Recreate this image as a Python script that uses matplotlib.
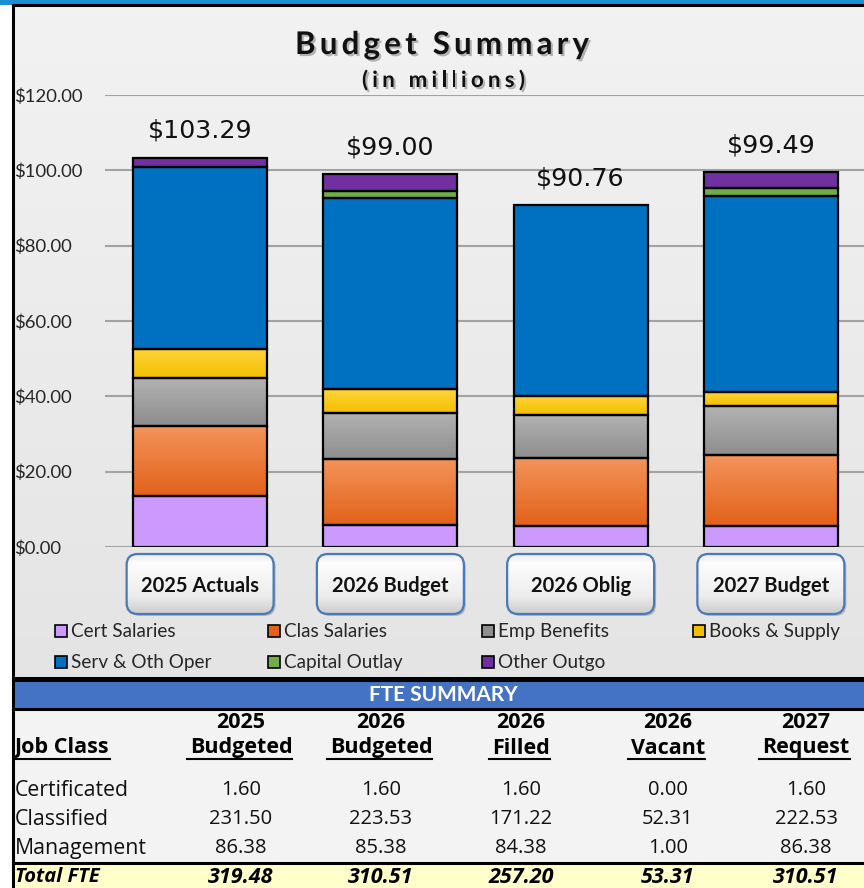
import numpy as np
import matplotlib
matplotlib.use("Agg")
import matplotlib.pyplot as plt
from matplotlib.patches import Rectangle, FancyBboxPatch
from matplotlib.lines import Line2D
from matplotlib.transforms import IdentityTransform
import matplotlib.patheffects as pe

# ---------------- data ----------------
categories = ["2025 Actuals", "2026 Budget", "2026 Oblig", "2027 Budget"]
totals = [103.29, 99.00, 90.76, 99.49]
cert_salaries = [13.6, 5.8, 5.7, 5.7]
clas_salaries = [18.5, 17.5, 17.8, 18.7]
emp_benefits = [12.7, 12.4, 11.5, 13.0]
books_supply = [7.8, 6.2, 5.2, 3.8]
serv_oth_oper = [48.19, 50.7, 50.56, 52.0]
capital_outlay = [0.0, 1.9, 0.0, 2.0]
other_outgo = [2.5, 4.5, 0.0, 4.29]
series_names = ["Cert Salaries", "Clas Salaries", "Emp Benefits", "Books & Supply",
                "Serv & Oth Oper", "Capital Outlay", "Other Outgo"]
yticks = [0, 20, 40, 60, 80, 100, 120]

fte_columns = [("2025", "Budgeted"), ("2026", "Budgeted"), ("2026", "Filled"),
               ("2026", "Vacant"), ("2027", "Request")]
fte_classes = ["Certificated", "Classified", "Management"]
fte_certificated = [1.60, 1.60, 1.60, 0.00, 1.60]
fte_classified = [231.50, 223.53, 171.22, 52.31, 222.53]
fte_management = [86.38, 85.38, 84.38, 1.00, 86.38]
fte_total = [319.48, 310.51, 257.20, 53.31, 310.51]

# ---------------- style ----------------
W, H = 864, 888
fig = plt.figure(figsize=(W / 100, H / 100), dpi=100)
fig.patch.set_facecolor("white")
CAL = ["Lato", "DejaVu Sans"]
TITLE = ["Lato", "DejaVu Sans"]
GOTH = ["Open Sans", "DejaVu Sans"]

def fx(x):
    return x / W

def fy(y):
    return 1 - y / H

def px_rect(x0, y0, x1, y1, **kw):
    r = Rectangle((x0, H - y1), x1 - x0, y1 - y0, transform=IdentityTransform(), **kw)
    fig.add_artist(r)
    return r

def px_line(x0, y0, x1, y1, **kw):
    l = Line2D([x0, x1], [H - y0, H - y1], transform=IdentityTransform(), **kw)
    fig.add_artist(l)
    return l

def text_width(s, **kw):
    r = fig.canvas.get_renderer()
    t = fig.text(0, 0, s + "x", **kw)
    t2 = fig.text(0, 0, "x", **kw)
    w = t.get_window_extent(r).width - t2.get_window_extent(r).width
    t.remove()
    t2.remove()
    return w

def spaced_text(xc, y_base, s, target_w, **kw):
    full = text_width(s, **kw)
    track = (target_w - full) / (len(s) - 1)
    x0 = xc - target_w / 2
    for i, ch in enumerate(s):
        if ch == " ":
            continue
        off = text_width(s[:i], **kw) if i > 0 else 0
        fig.text(fx(x0 + off + i * track), fy(y_base), ch, ha="left", va="baseline", **kw)

# top blue strip
px_rect(0, 0, W, 5, facecolor="#1b8fd2", edgecolor="none", zorder=5)

# chart background gradient
bg = fig.add_axes([fx(14), fy(677), (W - 14) / W, (677 - 5) / H], zorder=-10)
grad = np.linspace(0, 1, 256).reshape(-1, 1)
c_top = np.array([0.95, 0.95, 0.95])
c_bot = np.array([0.895, 0.895, 0.895])
img = c_top[None, None, :] * (1 - grad[:, :, None]) + c_bot[None, None, :] * grad[:, :, None]
bg.imshow(img, aspect="auto", extent=[0, 1, 0, 1])
bg.set_axis_off()

# chart frame
px_rect(13, 5, W + 5, 678, facecolor="none", edgecolor="black", linewidth=2.2, zorder=6)

# ---------------- main axes ----------------
ax = fig.add_axes([fx(105), fy(547), (866 - 105) / W, (547 - 95) / H])
ax.patch.set_alpha(0)
x = np.arange(len(categories))
width = 0.705

stack = [cert_salaries, clas_salaries, emp_benefits, books_supply,
         serv_oth_oper, capital_outlay, other_outgo]
colors = ["#cc99ff", "#f07a2a", "#a0a0a0", "#ffc600", "#0070c0", "#70ad47", "#7030a0"]
grads = {1: ("#f3935a", "#e2621a"), 2: ("#b2b2b2", "#8e8e8e"), 3: ("#ffd43a", "#f2bf00")}

bottom = np.zeros(len(categories))
for k, vals in enumerate(stack):
    vals = np.array(vals, dtype=float)
    bars = ax.bar(x, vals, width, bottom=bottom, color=colors[k], edgecolor="none", zorder=2)
    if k in grads:
        ct = np.array(matplotlib.colors.to_rgb(grads[k][0]))
        cb = np.array(matplotlib.colors.to_rgb(grads[k][1]))
        g = np.linspace(0, 1, 64).reshape(-1, 1)
        gimg = ct[None, None, :] * (1 - g[:, :, None]) + cb[None, None, :] * g[:, :, None]
        for p in bars:
            if p.get_height() <= 0:
                continue
            im = ax.imshow(gimg, aspect="auto", zorder=2.5,
                           extent=[p.get_x(), p.get_x() + p.get_width(),
                                   p.get_y(), p.get_y() + p.get_height()])
            im.set_clip_path(p)
    for xi, v, b in zip(x, vals, bottom):
        if v > 0:
            ax.bar(xi, v, width, bottom=b, facecolor="none", edgecolor="black",
                   linewidth=1.6, zorder=3)
    bottom = bottom + vals

ax.set_xlim(-0.5, 3.5)
ax.set_ylim(0, 120)
ax.set_yticks(yticks)
ax.set_yticklabels(["${:.2f}".format(v) for v in yticks], family=CAL, fontsize=13.3,
                   color="#262626")
for lab in ax.get_yticklabels():
    lab.set_horizontalalignment("left")
ax.tick_params(axis="y", length=0, pad=(105 - 14) * 0.72)
ax.tick_params(axis="x", length=0, labelbottom=False)
ax.yaxis.grid(True, color="#a3a3a3", linewidth=1.5, zorder=0)
ax.set_axisbelow(True)
for s in ax.spines.values():
    s.set_visible(False)

# totals
for xi, t in zip(x, totals):
    ax.annotate("${:.2f}".format(t), (xi, t), xytext=(0, 27), textcoords="offset pixels",
                ha="center", va="center", fontsize=18.3, family=["DejaVu Sans"],
                color="#111111", zorder=5)

fig.canvas.draw()

# title (letter-spaced)
shadow = [pe.SimplePatchShadow(offset=(1.5, -1.5), shadow_rgbFace="#888888", alpha=0.6), pe.Normal()]
spaced_text(442, 54, "Budget Summary", 294, fontsize=22.5, fontweight="bold",
            family=TITLE, color="#111111", path_effects=shadow)
spaced_text(443.5, 87, "(in millions)", 163, fontsize=16, fontweight="bold",
            family=TITLE, color="#111111", path_effects=shadow)

# category boxes, drawn in a pixel-coordinate overlay axes
ov = fig.add_axes([0, 0, 1, 1], zorder=7)
ov.set_xlim(0, W)
ov.set_ylim(0, H)
ov.set_axis_off()
ov.patch.set_alpha(0)
bg_box = np.linspace(0, 1, 64)
box_vals = np.interp(bg_box, [0, 0.15, 0.7, 1.0], [0.93, 0.99, 0.93, 0.80])
box_img = np.repeat(box_vals[:, None, None], 3, axis=2)
for xi, cat in zip(x, categories):
    cx = ax.transData.transform((xi, 0))[0]
    bw, bh = 147, 60
    y_bot = H - 614
    shadow_box = FancyBboxPatch((cx - bw / 2 + 2, y_bot - 2), bw, bh,
                                boxstyle="round,pad=0,rounding_size=11",
                                facecolor="#8a8a8a", edgecolor="none", alpha=0.5, zorder=1)
    ov.add_patch(shadow_box)
    box = FancyBboxPatch((cx - bw / 2, y_bot), bw, bh,
                         boxstyle="round,pad=0,rounding_size=11",
                         facecolor="#eeeeee", edgecolor="none", zorder=2)
    ov.add_patch(box)
    bim = ov.imshow(box_img, aspect="auto", zorder=3,
                    extent=[cx - bw / 2, cx + bw / 2, y_bot, y_bot + bh])
    bim.set_clip_path(box)
    edge = FancyBboxPatch((cx - bw / 2, y_bot), bw, bh,
                          boxstyle="round,pad=0,rounding_size=11",
                          facecolor="none", edgecolor="#4a78b8", linewidth=1.6, zorder=4)
    ov.add_patch(edge)
    ov.text(cx, H - 586, cat, ha="center", va="center", fontsize=14.5,
            fontweight="bold", family=CAL, color="#111111", zorder=5)
ov.set_xlim(0, W)
ov.set_ylim(0, H)

# legend (manual, two rows of four)
leg_cols = [55, 268, 482, 693]
leg_rows = [631, 662]
for k, name in enumerate(series_names):
    lx = leg_cols[k % 4]
    ly = leg_rows[k // 4]
    px_rect(lx, ly - 6, lx + 12, ly + 6, facecolor=colors[k] if k not in grads else grads[k][1],
            edgecolor="black", linewidth=1.2, zorder=8)
    fig.text(fx(lx + 16), fy(ly), name, ha="left", va="center", fontsize=13.6,
             family=CAL, color="#262626", zorder=9)

# ---------------- FTE table ----------------
REG = 14.5
BOLD = 15.5
px_rect(13, 679, W + 5, 888 + 5, facecolor="#f3f3f3", edgecolor="none", zorder=4)
px_rect(13, 680, W + 5, 708, facecolor="#4472c4", edgecolor="none", zorder=5)
px_line(13, 679.5, W, 679.5, color="black", linewidth=2.2, zorder=6)
px_line(13, 708.5, W, 708.5, color="black", linewidth=2.2, zorder=6)
px_line(13, 679, 13, H, color="black", linewidth=2.2, zorder=6)
fig.text(fx(443), fy(695), "FTE SUMMARY", ha="center", va="center", fontsize=15,
         fontweight="bold", family=CAL, color="white", zorder=7)

col_cx = [241, 381, 521, 668, 806]
underline_texts = []
for cx, (yr, lab) in zip(col_cx, fte_columns):
    fig.text(fx(cx), fy(723), yr, ha="center", va="center", fontsize=BOLD,
             fontweight="bold", family=GOTH, color="black", zorder=7)
    t = fig.text(fx(cx), fy(748), lab, ha="center", va="center", fontsize=BOLD,
                 fontweight="bold", family=GOTH, color="black", zorder=7)
    underline_texts.append((t, 3))
t = fig.text(fx(15), fy(748), "Job Class", ha="left", va="center", fontsize=BOLD,
             fontweight="bold", family=GOTH, color="black", zorder=7)
underline_texts.append((t, 0))

row_y = [790, 819, 848]
for ry, cls, vals in zip(row_y, fte_classes, [fte_certificated, fte_classified, fte_management]):
    fig.text(fx(15), fy(ry), cls, ha="left", va="center", fontsize=15.3,
             family=GOTH, color="#111111", zorder=7)
    for cx, v in zip(col_cx, vals):
        fig.text(fx(cx), fy(ry), "{:.2f}".format(v), ha="center", va="center",
                 fontsize=REG, family=GOTH, color="#111111", zorder=7)

px_rect(14, 863, W + 5, H + 5, facecolor="#ffffcc", edgecolor="none", zorder=5)
px_line(13, 862.5, W, 862.5, color="black", linewidth=2.2, zorder=6)
fig.text(fx(15), fy(877), "Total FTE", ha="left", va="center", fontsize=14.5,
         fontweight="bold", style="italic", family=GOTH, color="black", zorder=7)
for cx, v in zip(col_cx, fte_total):
    fig.text(fx(cx), fy(877), "{:.2f}".format(v), ha="center", va="center", fontsize=BOLD,
             fontweight="bold", style="italic", family=GOTH, color="black", zorder=7)

fig.canvas.draw()
r = fig.canvas.get_renderer()
for t, lead in underline_texts:
    bb = t.get_window_extent(r)
    px_line(bb.x0 - lead, 759, bb.x1, 759, color="black", linewidth=1.5, zorder=7)

fig.savefig("out.png", dpi=100)
